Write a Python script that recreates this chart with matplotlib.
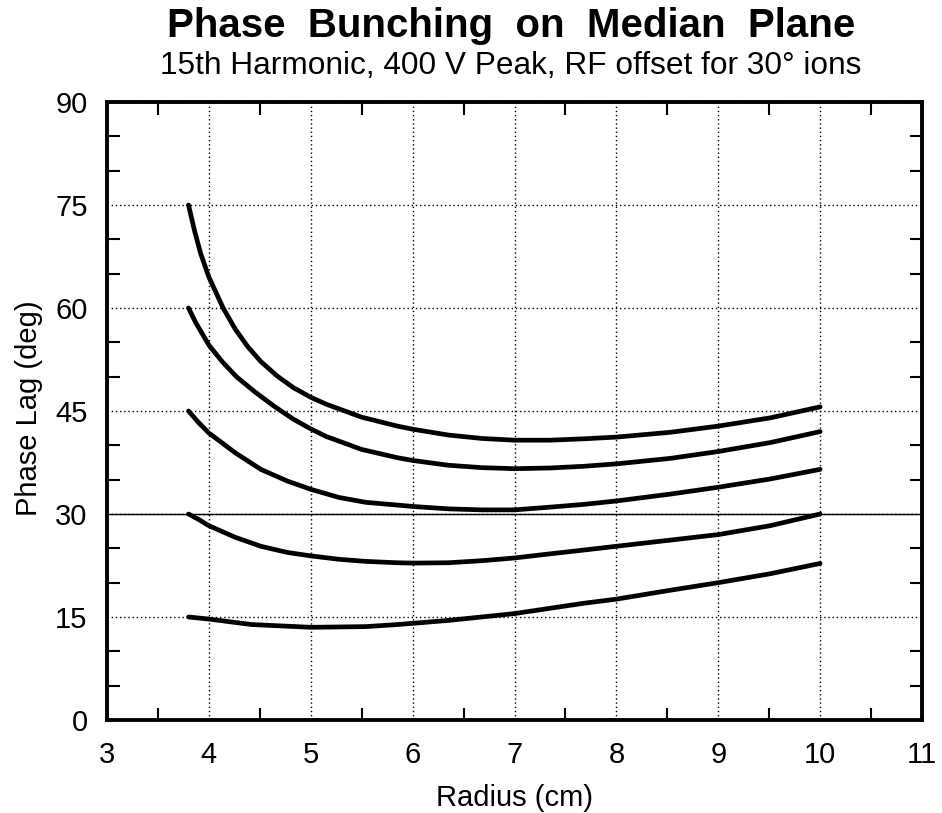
import matplotlib
matplotlib.use("Agg")
import matplotlib.pyplot as plt
from matplotlib.ticker import MultipleLocator

plt.rcParams['font.family'] = ['Liberation Sans', 'DejaVu Sans']

# Data (radius in cm, phase lag in deg)
r1 = [3.80, 3.86, 3.92, 4.00, 4.14, 4.26, 4.38, 4.51, 4.67, 4.83, 5.00, 5.15, 5.50,
      5.85, 6.00, 6.35, 6.68, 7.00, 7.35, 7.68, 8.00, 8.53, 9.00, 9.51, 10.00]
p1 = [75.0, 71.2, 67.9, 64.5, 60.0, 56.9, 54.4, 52.2, 50.1, 48.4, 47.0, 46.0, 44.1,
      42.8, 42.35, 41.5, 41.0, 40.75, 40.75, 40.95, 41.2, 41.9, 42.8, 44.0, 45.6]

r2 = [3.80, 3.87, 4.00, 4.13, 4.27, 4.45, 4.64, 4.83, 5.00, 5.15, 5.50, 5.85,
      6.00, 6.35, 6.68, 7.00, 7.35, 7.68, 8.00, 8.53, 9.00, 9.51, 10.00]
p2 = [60.0, 57.9, 54.6, 52.2, 50.0, 47.8, 45.7, 43.8, 42.4, 41.3, 39.4, 38.2,
      37.8, 37.1, 36.75, 36.6, 36.7, 36.95, 37.3, 38.1, 39.1, 40.4, 42.0]

r3 = [3.80, 3.90, 4.00, 4.26, 4.51, 4.77, 5.00, 5.28, 5.54, 5.85, 6.00, 6.35,
      6.68, 7.00, 7.35, 7.68, 8.00, 8.53, 9.00, 9.51, 10.00]
p3 = [45.0, 43.3, 41.8, 38.9, 36.5, 34.8, 33.6, 32.4, 31.7, 31.3, 31.1, 30.75,
      30.6, 30.6, 31.0, 31.4, 31.9, 32.9, 33.9, 35.1, 36.5]

r4 = [3.80, 3.90, 4.00, 4.26, 4.51, 4.77, 5.00, 5.28, 5.54, 5.85, 6.00, 6.35,
      6.68, 7.00, 7.35, 7.68, 8.00, 8.53, 9.00, 9.51, 10.00]
p4 = [30.0, 29.2, 28.3, 26.6, 25.3, 24.4, 23.9, 23.4, 23.1, 22.9, 22.85, 22.9,
      23.2, 23.6, 24.2, 24.75, 25.3, 26.2, 27.0, 28.3, 30.0]

r5 = [3.80, 4.00, 4.42, 5.00, 5.54, 5.85, 6.35, 7.00, 7.68, 8.00, 8.53, 9.00, 9.51, 10.00]
p5 = [15.0, 14.7, 13.9, 13.5, 13.6, 13.9, 14.5, 15.5, 17.0, 17.6, 18.9, 20.0, 21.3, 22.8]

curves = [(r1, p1), (r2, p2), (r3, p3), (r4, p4), (r5, p5)]

title = "Phase  Bunching  on  Median  Plane"
subtitle = "15th Harmonic, 400 V Peak, RF offset for 30\u00b0 ions"
xlabel = "Radius (cm)"
ylabel = "Phase Lag (deg)"

fig = plt.figure(figsize=(9.42, 8.13), dpi=100)
ax = fig.add_axes([107/942, 1-720/813, (922-107)/942, (720-102)/813])

ax.set_xlim(3, 11)
ax.set_ylim(0, 90)
ax.xaxis.set_major_locator(MultipleLocator(1))
ax.xaxis.set_minor_locator(MultipleLocator(0.5))
ax.yaxis.set_major_locator(MultipleLocator(15))
ax.yaxis.set_minor_locator(MultipleLocator(5))

ax.grid(True, which='major', color='black', linestyle=(0, (1, 2)), linewidth=1.0)
ax.axhline(30, color='black', linewidth=1.0, zorder=1)

for r, p in curves:
    ax.plot(r, p, color='black', linewidth=3.4, solid_capstyle='round',
            solid_joinstyle='round', zorder=3)

for s in ax.spines.values():
    s.set_linewidth(2.8)

ax.tick_params(which='both', direction='in', top=True, right=True, width=1.5)
ax.tick_params(which='major', length=0, labelsize=21)
ax.tick_params(axis='x', which='major', pad=15)
ax.tick_params(axis='y', which='major', pad=14)
ax.tick_params(which='minor', length=9)

ax.set_xlabel(xlabel, fontsize=21, va='top')
ax.xaxis.set_label_coords(0.5, (720-784)/618)
ax.set_ylabel(ylabel, fontsize=21)
ax.yaxis.set_label_coords((43-107)/815, 0.505)

fig.text(511/942, 1-37/813, title, ha='center', va='baseline', fontsize=29, fontweight='bold')
fig.text(511/942, 1-74/813, subtitle, ha='center', va='baseline', fontsize=22.8)

fig.savefig("out.png", dpi=100)
